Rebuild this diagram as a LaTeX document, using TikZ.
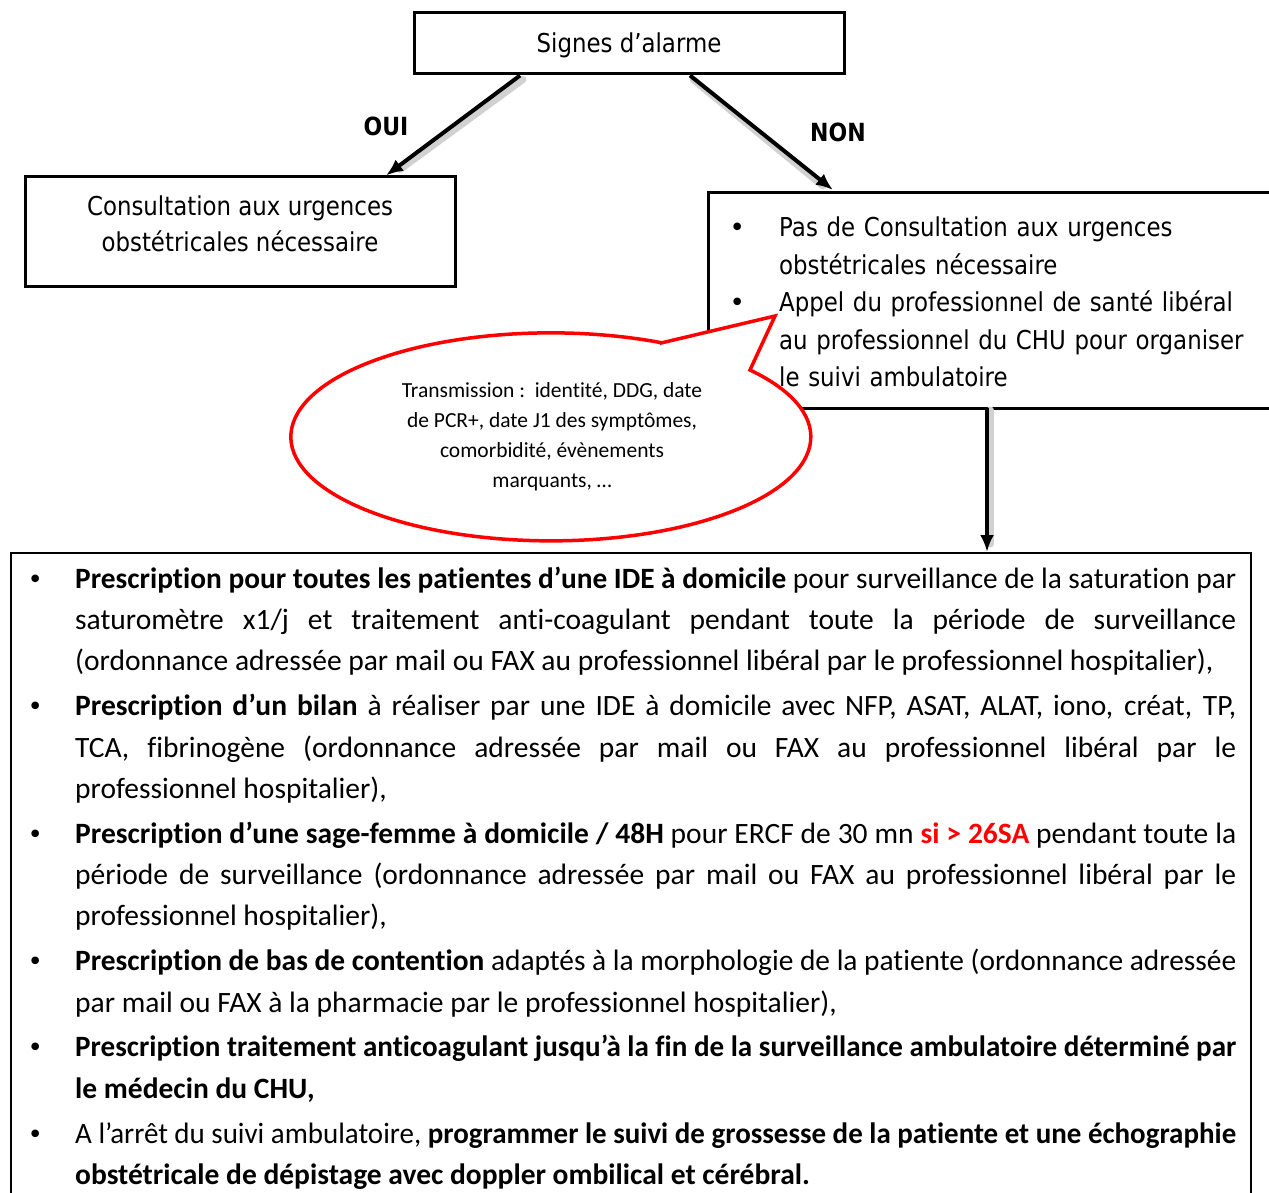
\documentclass[tikz,border=0pt]{standalone}
\usepackage{fontspec}
\usepackage{graphicx}
\setmainfont[Ligatures=NoCommon]{Carlito}
\newfontfamily\tah[FakeStretch=0.88]{DejaVu Sans}
\newfontfamily\bul{DejaVu Sans}
\usetikzlibrary{arrows.meta,calc}
\newcommand\botbul{\noindent\llap{\makebox[47.5pt][l]{\bul\fontsize{26}{30}\selectfont •}}}
\newcommand\topbul{\noindent\llap{\makebox[49.7pt][l]{\bul •}}}
\newsavebox\lnbox
\newcommand\jl[1]{\sbox\lnbox{#1}\ifdim\wd\lnbox>1161pt
  \resizebox{1161pt}{\height}{\usebox\lnbox}\else\makebox[1161pt][s]{#1}\fi}
\newcommand\nl[1]{\noindent#1\par}
\newcommand\gap{\vskip3.6pt}
\begin{document}
\begin{tikzpicture}[x=1pt,y=-1pt,
  frame/.style={draw=black, line width=3pt, inner sep=0pt, outer sep=0pt},
  thinframe/.style={draw=black, line width=2pt, inner sep=0pt, outer sep=0pt},
  arr/.style={line width=4pt, -{Latex[length=17pt,width=14pt]}},
  shad/.style={line width=7pt, draw=black!18, line cap=round},
  toptext/.style={inner sep=0pt, font=\tah\fontsize{26}{36}\selectfont},
  lbl/.style={inner sep=0pt, font=\tah\bfseries\fontsize{25}{30}\selectfont},
  bubtext/.style={inner sep=0pt, align=center, font=\fontsize{21.5}{30}\selectfont},
  bubble/.style={draw=red, line width=3.5pt, fill=white, line join=miter},
]
\useasboundingbox (0,0) rectangle (1269,1193);
\clip (0,0) rectangle (1269,1193);

% frames
\node[frame, minimum width=430pt, minimum height=61pt] (sig) at (629,43.5) {};
\node[frame, minimum width=430pt, minimum height=109pt] (cons) at (240,231.5) {};
\node[frame, minimum width=592pt, minimum height=215pt] (pas) at (1004,300.5) {};
\node[thinframe, minimum width=1240pt, minimum height=700pt] (presc) at (631,903) {};

% texts of upper boxes
\node[toptext, anchor=base] (sigt) at (629,52.5) {Signes d’alarme};
\node[toptext, anchor=north, align=center] (const) at (240,190.5)
  {\strut Consultation aux urgences\\obstétricales nécessaire};

% arrows
\coordinate (oA) at ($(sig.south west)+(106,1.5)$);
\coordinate (oB) at ($(cons.north west)+(361,-1.5)$);
\coordinate (nA) at ($(sig.south west)+(276,1.5)$);
\coordinate (nB) at ($(pas.north west)+(125,-3)$);
\coordinate (dA) at ($(pas.south west)+(279,0)$);
\coordinate (dB) at ($(presc.north west)+(976,-1)$);
\draw[shad] ($(oA)+(3,4)$) -- ($(oB)+(14,-6)$);
\draw[shad] ($(nA)+(3,4)$) -- ($(nB)+(-10,-4)$);
\draw[shad] ($(dA)+(3,2)$) -- ($(dB)+(3,-8)$);
\draw[arr] (oA) -- (oB);
\draw[arr] (nA) -- (nB);
\draw[arr] (dA) -- (dB);

\node[lbl, anchor=base] (oui) at (386,136) {OUI};
\node[lbl, anchor=base] (non) at (838,142) {NON};

% bubble
\draw[bubble] (661,343) -- (775,316) -- (750,370)
  arc[start angle=-40, end angle=295, x radius=260, y radius=104] -- cycle;
\node[bubtext, anchor=north] (bubt) at (552,376)
  {\spaceskip=0pt\xspaceskip=0pt\strut Transmission :\ \ identité, DDG, date\\de PCR+, date J1 des symptômes,\\comorbidité, évènements\\marquants, …};

% right box text
\node[toptext, anchor=north west, text width=480pt, align=left,
      font=\tah\fontsize{26}{37.5}\selectfont] (past) at (779,210.25)
  {\topbul\strut Pas de Consultation aux urgences\\
   obstétricales nécessaire\par
   \topbul Appel du professionnel de santé libéral\\
   au professionnel du CHU pour organiser\\
   le suivi ambulatoire};

% bottom box text
\node[inner sep=0pt, anchor=north west, text width=1161pt, align=left,
      font=\fontsize{29.5}{41.3}\selectfont] (prest) at (75,559.1)
  {\parskip=0pt\spaceskip=0pt\xspaceskip=0pt\rightskip=0pt plus 1fil\relax
   \botbul\strut\jl{\textbf{Prescription pour toutes les patientes d’une IDE à domicile} pour surveillance de la saturation par}\par
   \nl{\jl{saturomètre x1/j et traitement anti-coagulant pendant toute la période de surveillance}}
   \nl{(ordonnance adressée par mail ou FAX au professionnel libéral par le professionnel hospitalier),}
   \gap
   \botbul\jl{\textbf{Prescription d’un bilan} à réaliser par une IDE à domicile avec NFP, ASAT, ALAT, iono, créat, TP,}\par
   \nl{\jl{TCA, fibrinogène (ordonnance adressée par mail ou FAX au professionnel libéral par le}}
   \nl{professionnel hospitalier),}
   \gap
   \botbul\jl{\textbf{Prescription d’une sage-femme à domicile / 48H} pour ERCF de 30 mn \textcolor{red}{\textbf{si > 26SA}} pendant toute la}\par
   \nl{\jl{période de surveillance (ordonnance adressée par mail ou FAX au professionnel libéral par le}}
   \nl{professionnel hospitalier),}
   \gap
   \botbul\jl{\textbf{Prescription de bas de contention} adaptés à la morphologie de la patiente (ordonnance adressée}\par
   \nl{par mail ou FAX à la pharmacie par le professionnel hospitalier),}
   \gap
   \botbul\jl{\textbf{Prescription traitement anticoagulant jusqu’à la fin de la surveillance ambulatoire déterminé par}}\par
   \nl{\textbf{le médecin du CHU,}}
   \gap
   \botbul\jl{A l’arrêt du suivi ambulatoire, \textbf{programmer le suivi de grossesse de la patiente et une échographie}}\par
   \nl{\textbf{obstétricale de dépistage avec doppler ombilical et cérébral.}}};
\end{tikzpicture}
\end{document}
